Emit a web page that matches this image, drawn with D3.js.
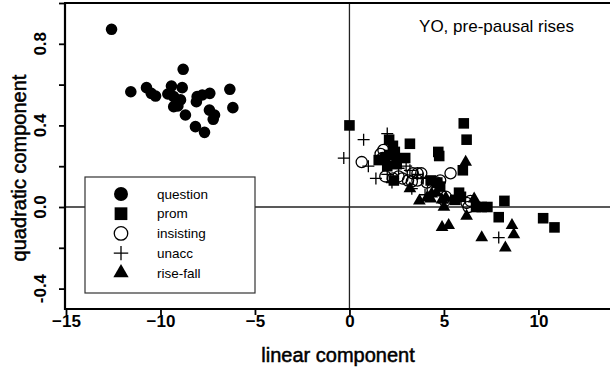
<!DOCTYPE html>
<html><head><meta charset="utf-8">
<script src="https://cdn.jsdelivr.net/npm/d3@7"></script>
<style>body{margin:0;background:#fff}svg{display:block}text{font-family:"Liberation Sans",Arial,sans-serif;fill:#000}</style>
</head><body><svg id="c" width="610" height="379"></svg>
<script>
const categories = ["question","prom","insisting","unacc","rise-fall"];
const questionX = [-12.59,-8.80,-11.57,-10.74,-10.49,-10.26,-9.42,-9.61,-9.30,-8.85,-8.94,-9.30,-9.08,-8.68,-8.06,-8.10,-7.79,-7.39,-7.41,-7.14,-7.21,-8.15,-7.67,-6.33,-6.17];
const questionY = [0.871,0.675,0.565,0.585,0.557,0.544,0.593,0.554,0.541,0.585,0.525,0.492,0.495,0.451,0.541,0.516,0.549,0.557,0.475,0.451,0.430,0.394,0.366,0.577,0.487];
const promX = [0.0,6.05,6.2,3.2,2.1,2.3,2.4,4.7,4.75,1.55,1.9,2.5,2.95,2.5,2.1,6.0,4.3,4.65,4.8,2.35,5.8,5.6,6.7,7.0,7.3,8.2,7.9,10.25,10.85,5.9,2.0];
const promY = [0.40,0.41,0.33,0.31,0.33,0.30,0.27,0.27,0.25,0.23,0.24,0.23,0.24,0.21,0.255,0.18,0.13,0.12,0.10,0.13,0.07,0.035,0.0,0.0,0.0,0.03,-0.05,-0.055,-0.10,0.05,0.2];
const insistingX = [0.65,1.65,1.75,1.8,1.9,2.3,2.6,2.8,3.1,3.3,3.35,3.6,3.6,3.8,4.1,4.4,4.6,5.1,5.05,5.35,6.3,6.2,6.4,4.8];
const insistingY = [0.22,0.26,0.24,0.28,0.15,0.14,0.15,0.14,0.13,0.125,0.165,0.165,0.13,0.165,0.12,0.09,0.12,0.05,0.03,0.165,0.0,0.02,0.03,0.13];
const unaccX = [-0.3,0.75,2.0,1.0,1.4,2.25,2.0,3.2,3.3,3.9,3.6,4.4,5.0,7.9,2.6,4.0,3.0];
const unaccY = [0.24,0.33,0.36,0.2,0.14,0.12,0.16,0.18,0.09,0.14,0.16,0.12,0.02,-0.15,0.19,0.06,0.2];
const risefallX = [6.15,3.7,4.1,4.35,4.3,4.9,5.0,5.1,5.25,4.9,6.2,6.6,7.0,8.6,8.7,8.25,3.2,4.6];
const risefallY = [0.22,0.03,0.045,0.065,0.04,0.035,0.0,0.045,-0.09,-0.1,-0.045,0.04,-0.15,-0.09,-0.135,-0.2,0.09,0.07];
const xTicks = [-15,-10,-5,0,5,10];
const yTicks = [-0.4,-0.2,0,0.2,0.4,0.6,0.8,1.0];
const yTickLabels = [-0.4,0.0,0.4,0.8];
const titleText = "YO, pre-pausal rises";
const xTitle = "linear component";
const yTitle = "quadratic component";

const svg = d3.select("#c");
const x = d3.scaleLinear().domain([-15,14]).range([66,614]);
const y = d3.scaleLinear().domain([-0.5,1.0]).range([309,3]);

svg.append("line").attr("x1",65).attr("x2",610).attr("y1",y(0)).attr("y2",y(0)).attr("stroke","#222").attr("stroke-width",1.3);
svg.append("line").attr("x1",x(0)).attr("x2",x(0)).attr("y1",3).attr("y2",309).attr("stroke","#222").attr("stroke-width",1.3);
svg.append("line").attr("x1",64).attr("x2",610).attr("y1",3).attr("y2",3).attr("stroke","#000").attr("stroke-width",2);

const gx = svg.append("g").attr("transform","translate(0,309)")
  .call(d3.axisBottom(x).tickValues(xTicks).tickSize(6).tickFormat(d3.format("d")));
gx.select(".domain").attr("d","M64,0H610").attr("stroke","#000").attr("stroke-width",2.2);
gx.selectAll(".tick line").attr("stroke","#000").attr("stroke-width",1.8);
gx.selectAll(".tick text").attr("font-size",17).attr("font-family","Liberation Sans, Arial").attr("dy","0.5em").attr("y",9).style("font-weight","bold").attr("fill","#000");

const gy = svg.append("g").attr("transform","translate(65,0)")
  .call(d3.axisLeft(y).tickValues(yTicks).tickSize(6).tickFormat(""));
gy.select(".domain").attr("d","M0,3V310").attr("stroke","#000").attr("stroke-width",2.2);
gy.selectAll(".tick line").attr("stroke","#000").attr("stroke-width",1.8);
svg.selectAll(".ylab").data(yTickLabels).join("text").attr("class","ylab")
  .attr("transform",d=>`translate(46,${y(d)}) rotate(-90)`)
  .attr("text-anchor","middle").attr("font-size",17).style("font-weight","bold")
  .text(d=>d3.format(".1f")(d).replace("−","-"));

svg.append("text").attr("x",338).attr("y",362).attr("text-anchor","middle").attr("font-size",20)
  .attr("stroke","#000").attr("stroke-width",0.5).text(xTitle);
svg.append("text").attr("transform","translate(26,168) rotate(-90)").attr("text-anchor","middle").attr("font-size",20)
  .attr("stroke","#000").attr("stroke-width",0.5).text(yTitle);
svg.append("text").attr("x",574).attr("y",32).attr("text-anchor","end").attr("font-size",17).text(titleText);

const sym = {
  question: s=>d3.symbol(d3.symbolCircle, Math.PI*5.8*5.8*s)(),
  prom: s=>d3.symbol(d3.symbolSquare, 112*s)(),
  insisting: s=>d3.symbol(d3.symbolCircle, Math.PI*5.6*5.6*s)(),
  unacc: s=>{const a=6*Math.sqrt(s);return `M${-a},0H${a}M0,${-a}V${a}`;},
  "rise-fall": s=>d3.symbol(d3.symbolTriangle, 70*s)()
};
function style(sel,c){
  if(c==="insisting"||c==="unacc") sel.attr("fill","none").attr("stroke","#000").attr("stroke-width",1.3);
  else sel.attr("fill","#000").attr("stroke","none");
}
const series = [
  ["question",questionX,questionY],
  ["prom",promX,promY],
  ["insisting",insistingX,insistingY],
  ["unacc",unaccX,unaccY],
  ["rise-fall",risefallX,risefallY]
];
series.forEach(([c,xs,ys])=>{
  const pts = xs.map((v,i)=>[v,ys[i]]);
  const s = svg.append("g").selectAll("path").data(pts).join("path")
    .attr("d",sym[c](1)).attr("transform",d=>`translate(${x(d[0])},${y(d[1])})`);
  style(s,c);
});

const lg = svg.append("g");
lg.append("rect").attr("x",85).attr("y",177).attr("width",170).attr("height",116).attr("fill","#fff").attr("stroke","#333").attr("stroke-width",1.2);
categories.forEach((c,i)=>{
  const yy = 194 + i*19.7;
  const p = lg.append("path").attr("d",sym[c](1.45)).attr("transform",`translate(121,${yy})`);
  style(p,c);
  lg.append("text").attr("x",157).attr("y",yy).attr("dy","0.35em").attr("font-size",13.5).text(c);
});
</script></body></html>
